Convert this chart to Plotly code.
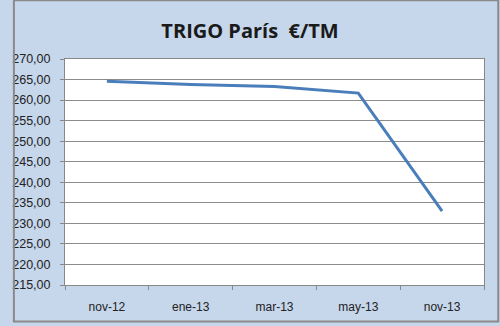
import plotly.graph_objects as go

categories = ["nov-12", "ene-13", "mar-13", "may-13", "nov-13"]
values = [264.6, 263.8, 263.3, 261.7, 233.0]
y_ticks = [215, 220, 225, 230, 235, 240, 245, 250, 255, 260, 265, 270]

fig = go.Figure()
fig.add_trace(go.Scatter(
    x=categories, y=values, mode="lines",
    line=dict(color="#4a7ebb", width=3),
    hoverinfo="skip",
))

fig.update_layout(
    width=500, height=326,
    margin=dict(l=61, r=16, t=59, b=37),
    paper_bgcolor="#c6d6eb",
    plot_bgcolor="#ffffff",
    separators=",.",
    showlegend=False,
    title=dict(text="<b>TRIGO París  €/TM</b>", x=0.5, xanchor="center",
               y=0.905, yanchor="middle",
               font=dict(family="Open Sans, Liberation Sans", size=20, color="#1a1a1a")),
    font=dict(family="Liberation Sans, Arial", size=12, color="#222222"),
)
fig.update_xaxes(
    type="category", range=[-0.5, 4.5], tickson="boundaries", ticks="outside", ticklen=4,
    tickcolor="#888888", showline=True, linecolor="#888888", mirror=True,
    showgrid=False, tickfont=dict(size=12), ticklabelstandoff=11,
)
fig.update_yaxes(
    range=[215, 270], tickvals=y_ticks, tickformat=".2f",
    ticks="outside", ticklen=4, tickcolor="#888888",
    showline=True, linecolor="#888888", mirror=True,
    showgrid=True, gridcolor="#8c8c8c", gridwidth=1, zeroline=False,
    tickfont=dict(size=12.5), ticklabelstandoff=7,
)
fig.add_shape(type="rect", xref="paper", yref="paper", x0=-0.122, x1=1.034,
              y0=-0.161, y1=1.26, line=dict(color="#8a8a8a", width=2))
fig.write_html("out.html")
